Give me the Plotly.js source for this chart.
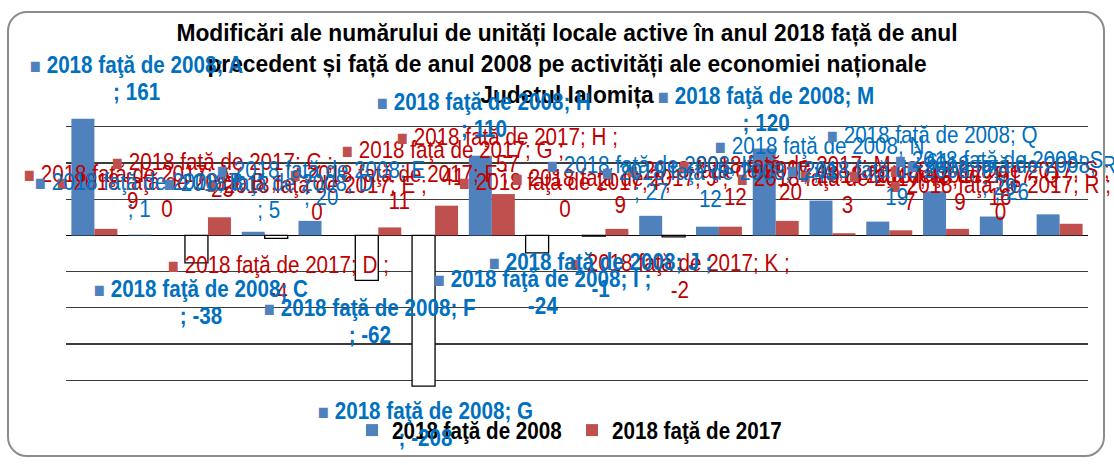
<!DOCTYPE html>
<html>
<head>
<meta charset="utf-8">
<script src="https://cdn.plot.ly/plotly-3.0.1.min.js"></script>
<style>
  html, body { margin: 0; padding: 0; background: #ffffff; }
  #wrap { position: relative; width: 1114px; height: 465px; }
  #chart { width: 1114px; height: 465px; }
  #frame { position: absolute; left: 7px; top: 11px; width: 1098px; height: 446px;
           box-sizing: border-box; border: 2.5px solid #8c8c8c; border-radius: 20px; pointer-events: none; }
  /* condensed look (the reference uses a narrow face, which is not installed) */
  #chart .annotation-text { transform-box: fill-box; transform-origin: 0 50%; transform: scaleX(0.86); }
  #chart .legendtext { transform-box: fill-box; transform-origin: 0 50%; transform: scaleX(0.86); }
  #chart .gtitle { transform-box: fill-box; transform-origin: 50% 50%; transform: scaleX(0.95); }
</style>
</head>
<body>
<div id="wrap"><div id="chart"></div><div id="frame"></div></div>
<script>
// ---- data ----
const categories = ['A','B','C','D','E','F','G','H','I','J','K','L','M','N','P','Q','R','S'];
const change2008 = [161, 1, -38, 5, 20, -62, -208, 110, -24, -1, 27, 12, 120, 48, 19, 61, 26, 29];
const change2017 = [9, 0, 25, -4, 0, 11, 41, 57, 0, 9, -2, 12, 20, 3, 7, 9, 0, 16];
const seriesNames = ['2018 faţă de 2008', '2018 faţă de 2017'];
const titleLines = ['Modificări ale numărului de unități locale active în anul 2018 față de anul',
                    'precedent și față de anul 2008 pe activități ale economiei naționale',
                    'Judetul Ialomița'];

// ---- label placement (pixel positions of the hand-moved data labels) ----
// [left edge px, first-line centre px, bold, value on own line without ';']
const labelPlace2008 = {
  A:[28,65,1,0], B:[33,182,0,0], C:[92,289,1,0], D:[162,183,0,0], E:[215,170,0,0],
  F:[262,308,1,0], G:[316,411,1,0], H:[375,102,1,0], I:[432,279,1,1], J:[487,262,1,1],
  K:[545,165,0,0], L:[600,172,0,1], M:[656,96,1,0], N:[713,146,0,0], P:[785,170,0,1],
  Q:[825,135,0,0], R:[905,165,0,0], S:[893,160,0,0]
};
const labelPlace2017 = {
  A:[22,174], B:[55,182], C:[110,162], D:[166,265], E:[205,185], F:[288,174],
  G:[340,150], H:[395,137], I:[457,182], J:[510,178], K:[568,263], L:[625,170],
  M:[677,165], N:[735,178], P:[798,175], Q:[847,175], R:[888,185], S:[888,170]
};

const BLUE = '#4F81BD', RED = '#C0504D';
const BLUE_TXT = '#0070C0', RED_TXT = '#C00000';
const FONT = '"Liberation Sans", Arial, sans-serif';

// plot area in px
const PL = 66, PR = 1088, PT = 90, PB = 417;

function fillFor(vals, col) { return vals.map(v => v < 0 ? '#ffffff' : col); }
function lineW(vals) { return vals.map(v => v < 0 ? 1.3 : 0); }

const traces = [
  { type: 'bar', name: seriesNames[0], x: categories, y: change2008,
    marker: { color: fillFor(change2008, BLUE), line: { color: '#000000', width: lineW(change2008) } } },
  { type: 'bar', name: seriesNames[1], x: categories, y: change2017,
    marker: { color: fillFor(change2017, RED), line: { color: '#000000', width: lineW(change2017) } } }
];

const annotations = [];
function addLabel(left, cy, sq, txtCol, l1, l2, bold) {
  annotations.push({
    xref: 'paper', yref: 'paper',
    x: (left - PL) / (PR - PL), y: (PB - (cy - 16)) / (PB - PT),
    xanchor: 'left', yanchor: 'top', showarrow: false, align: 'center',
    text: '<span style="color:' + sq + ';font-size:21px">■</span> ' + l1 + '<br>' + l2,
    font: { family: FONT, size: 24, color: txtCol, weight: bold ? 'bold' : 'normal' }
  });
}
categories.forEach((c, i) => {
  const p = labelPlace2017[c];
  addLabel(p[0], p[1], RED, RED_TXT, seriesNames[1] + '; ' + c + ' ;', String(change2017[i]), false);
});
categories.forEach((c, i) => {
  const p = labelPlace2008[c];
  const l1 = p[3] ? seriesNames[0] + '; ' + c + ' ;' : seriesNames[0] + '; ' + c;
  const l2 = p[3] ? String(change2008[i]) : '; ' + change2008[i];
  addLabel(p[0], p[1], BLUE, BLUE_TXT, l1, l2, p[2]);
});

const layout = {
  width: 1114, height: 465,
  margin: { l: PL, r: 1114 - PR, t: PT, b: 465 - PB, pad: 0, autoexpand: false },
  paper_bgcolor: '#ffffff', plot_bgcolor: '#ffffff',
  font: { family: FONT, color: '#000000' },
  title: {
    text: titleLines.join('<br>'),
    font: { family: FONT, size: 24, color: '#000000', weight: 'bold' },
    x: 567 / 1114, xref: 'container', xanchor: 'center',
    y: 1 - 41 / 465, yref: 'container', yanchor: 'top'
  },
  barmode: 'group', bargap: 0.19, bargroupgap: 0,
  xaxis: { showticklabels: false, ticks: '', showgrid: false, showline: false, zeroline: false, fixedrange: true },
  yaxis: { range: [-250.6, 200.6], dtick: 50, tick0: 0, showticklabels: false, ticks: '',
           showgrid: true, gridcolor: '#3c3c3c', gridwidth: 1.2,
           zeroline: true, zerolinecolor: '#000000', zerolinewidth: 1.3, showline: false, fixedrange: true },
  showlegend: true,
  legend: { orientation: 'h', x: (572 - PL) / (PR - PL), xref: 'paper', xanchor: 'center',
            y: (465 - 408) / 465, yref: 'container', yanchor: 'top', entrywidth: 175, entrywidthmode: 'pixels',
            font: { family: FONT, size: 24, color: '#000000', weight: 'bold' },
            bgcolor: 'rgba(0,0,0,0)' },
  annotations: annotations
};

Plotly.newPlot('chart', traces, layout, { displayModeBar: false, staticPlot: true }).then(() => {
  // tighter line spacing inside the data labels, as in the reference
  document.querySelectorAll('#chart .annotation-text tspan.line').forEach(t => {
    const dy = t.getAttribute('dy');
    if (dy && /em$/.test(dy)) {
      const n = parseFloat(dy) / 1.3;
      t.setAttribute('dy', (n * 1.12) + 'em');
    }
  });
});
</script>
</body>
</html>
